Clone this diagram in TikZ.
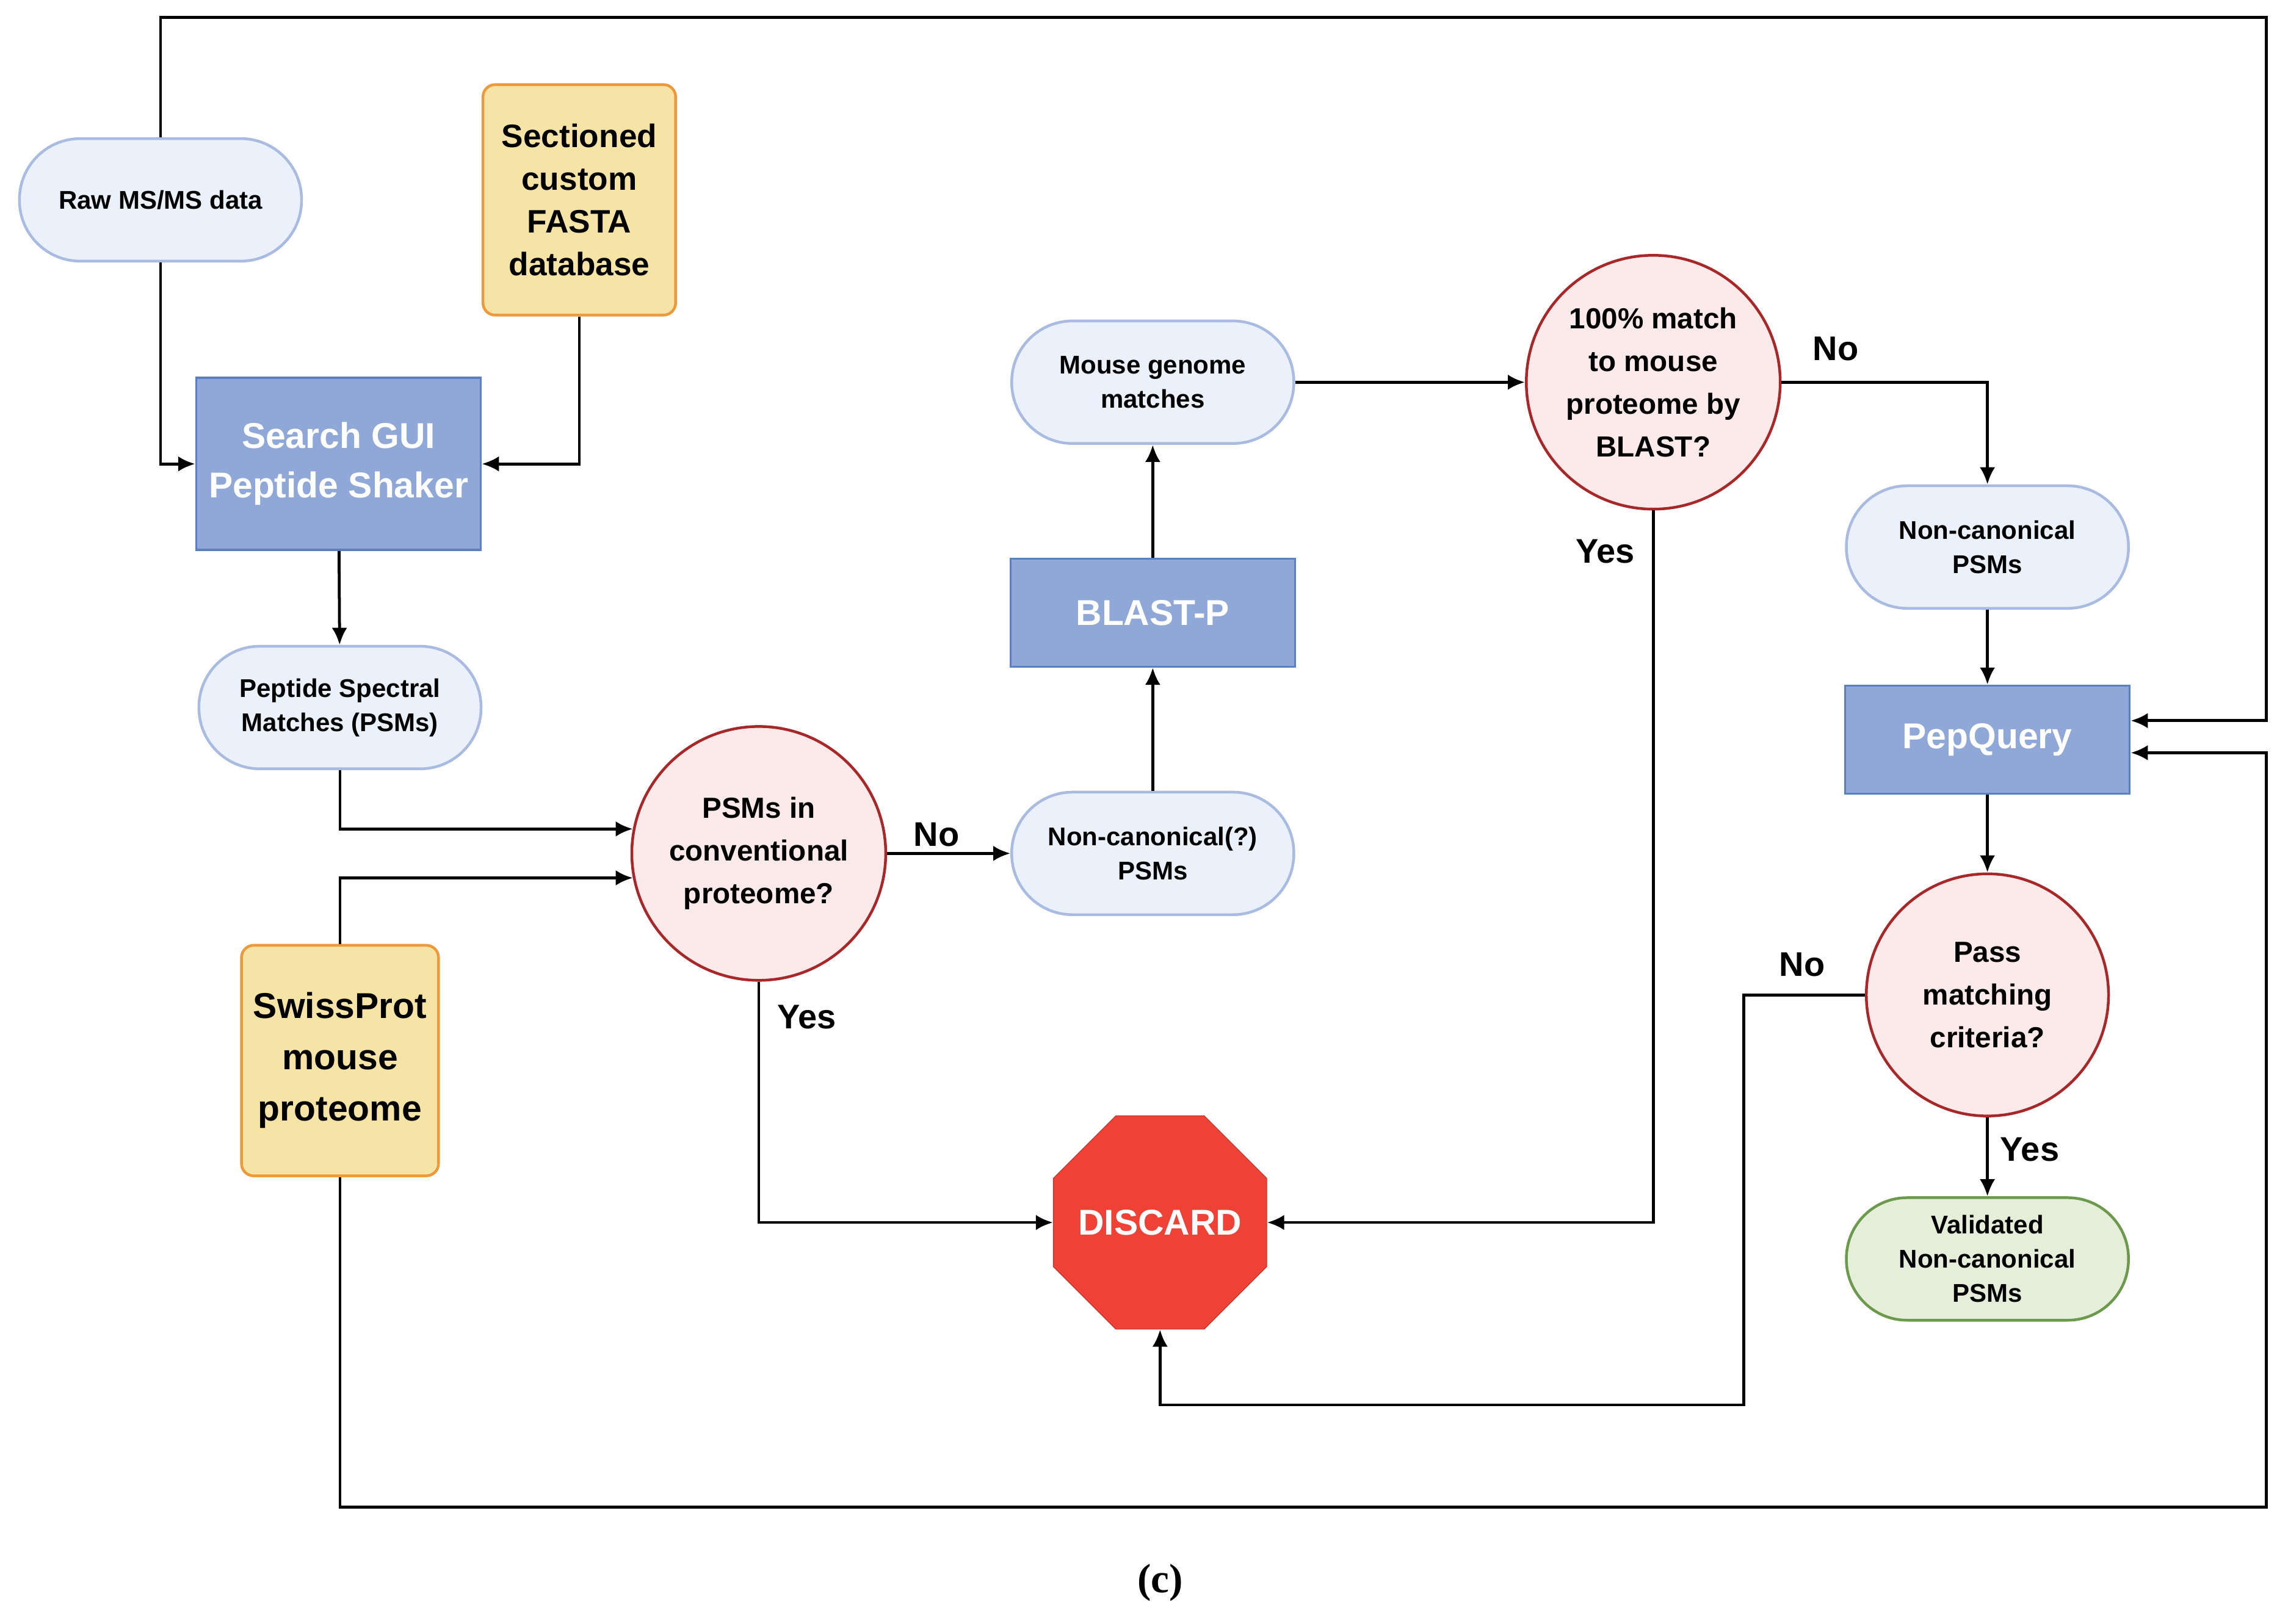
\documentclass[tikz,border=0pt]{standalone}
\usepackage{fontspec}
\setmainfont{Liberation Sans}
\newfontfamily\capfont{Liberation Serif}
\usetikzlibrary{shapes.geometric,arrows.meta}
\definecolor{pillfill}{HTML}{EAF1FB}
\definecolor{pilldraw}{HTML}{A9BBE0}
\definecolor{dbfill}{HTML}{F6E3A6}
\definecolor{dbdraw}{HTML}{EE9A3A}
\definecolor{procfill}{HTML}{8FA8D8}
\definecolor{procdraw}{HTML}{5B7FC3}
\definecolor{askfill}{HTML}{FCE9E9}
\definecolor{askdraw}{HTML}{A8282A}
\definecolor{okfill}{HTML}{E4EED9}
\definecolor{okdraw}{HTML}{6C9A4C}
\definecolor{stopfill}{HTML}{EF4136}
\tikzset{
  pill/.style={rectangle, rounded corners=1.25cm, fill=pillfill, draw=pilldraw, line width=1.6pt,
    minimum width=5.8cm, minimum height=2.52cm, align=center, font=\fontsize{15}{20}\selectfont\bfseries},
  db/.style={rectangle, rounded corners=0.25cm, fill=dbfill, draw=dbdraw, line width=1.6pt,
    minimum width=3.96cm, minimum height=4.74cm, align=center},
  proc/.style={rectangle, fill=procfill, draw=procdraw, line width=1.2pt, text=white,
    minimum width=5.85cm, align=center, font=\fontsize{21}{29}\selectfont\bfseries},
  ask/.style={circle, fill=askfill, draw=askdraw, line width=1.6pt, minimum size=5.22cm,
    inner sep=0pt, align=center, font=\fontsize{17}{25}\selectfont\bfseries},
  lbl/.style={font=\fontsize{20}{24}\selectfont\bfseries},
  arr/.style={-{Latex[length=10pt,width=9pt]}, line width=1.7pt},
  ln/.style={line width=1.7pt}
}
\begin{document}
\begin{tikzpicture}[x=0.03cm,y=-0.03cm]
\useasboundingbox (0,0) rectangle (1568,1113);
% nodes
\node[pill] (raw) at (110,137) {Raw MS/MS data};
\node[db, font=\fontsize{19}{25}\selectfont\bfseries] (fasta) at (397,137) {Sectioned\\custom\\FASTA\\database};
\node[proc, minimum height=3.54cm] (gui) at (232,318) {Search GUI\\Peptide Shaker};
\node[pill] (psm) at (233,485) {Peptide Spectral\\Matches (PSMs)};
\node[ask] (conv) at (520,585) {PSMs in\\conventional\\proteome?};
\node[db, minimum width=4.05cm, font=\fontsize{21}{30}\selectfont\bfseries] (swiss) at (233,727) {SwissProt\\mouse\\proteome};
\node[pill] (ncq) at (790,585) {Non-canonical(?)\\PSMs};
\node[proc, minimum height=2.22cm] (blast) at (790,420) {BLAST-P};
\node[pill] (mouse) at (790,262) {Mouse genome\\matches};
\node[ask] (match) at (1133,262) {100\% match\\to mouse\\proteome by\\BLAST?};
\node[pill] (ncp) at (1362,375) {Non-canonical\\PSMs};
\node[proc, minimum height=2.22cm] (pep) at (1362,507) {PepQuery};
\node[ask, minimum size=4.98cm] (pass) at (1362,682) {Pass\\matching\\criteria?};
\node[pill, fill=okfill, draw=okdraw] (valid) at (1362,863) {Validated\\Non-canonical\\PSMs};
\node[regular polygon, regular polygon sides=8, minimum size=4.75cm, inner sep=0pt, fill=stopfill,
  draw=stopfill!80!black, label={[text=white, font=\fontsize{21}{25}\selectfont\bfseries]center:DISCARD}] (stop) at (795,838) {};
\node[font=\capfont\fontsize{24}{28}\selectfont\bfseries] (cap) at (795,1085) {(c)};
% corners of the long loops
\coordinate (topR) at (1553,12);
\coordinate (botR) at (1553,1033);
\coordinate (back) at (1195,963);
% connectors
\draw[arr] (raw.north) |- (topR) |- ([yshift=0.39cm]pep.east);
\draw[arr] (raw.south) |- (gui.west);
\draw[arr] (fasta.south) |- (gui.east);
\draw[arr] (gui) -- (psm);
\draw[arr] (psm.south) |- (conv.169);
\draw[arr] (swiss.north) |- (conv.191);
\draw[arr] (swiss.south) |- (botR) |- ([yshift=-0.27cm]pep.east);
\draw[arr] (conv) -- node[lbl, above, pos=0.4] {No} (ncq);
\draw[arr] (conv.south) |- (stop.west);
\node[lbl] at (553,697) {Yes};
\draw[arr] (ncq) -- (blast);
\draw[arr] (blast) -- (mouse);
\draw[arr] (mouse) -- (match);
\draw[arr] (match.east) -| (ncp.north);
\node[lbl] at (1258,239) {No};
\draw[arr] (match.south) |- (stop.east);
\node[lbl] at (1100,378) {Yes};
\draw[arr] (ncp) -- (pep);
\draw[arr] (pep) -- (pass);
\draw[arr] (pass.west) -| (back) -| (stop.south);
\node[lbl] at (1235,661) {No};
\draw[arr] (pass) -- (valid);
\node[lbl] at (1391,788) {Yes};
\end{tikzpicture}
\end{document}
